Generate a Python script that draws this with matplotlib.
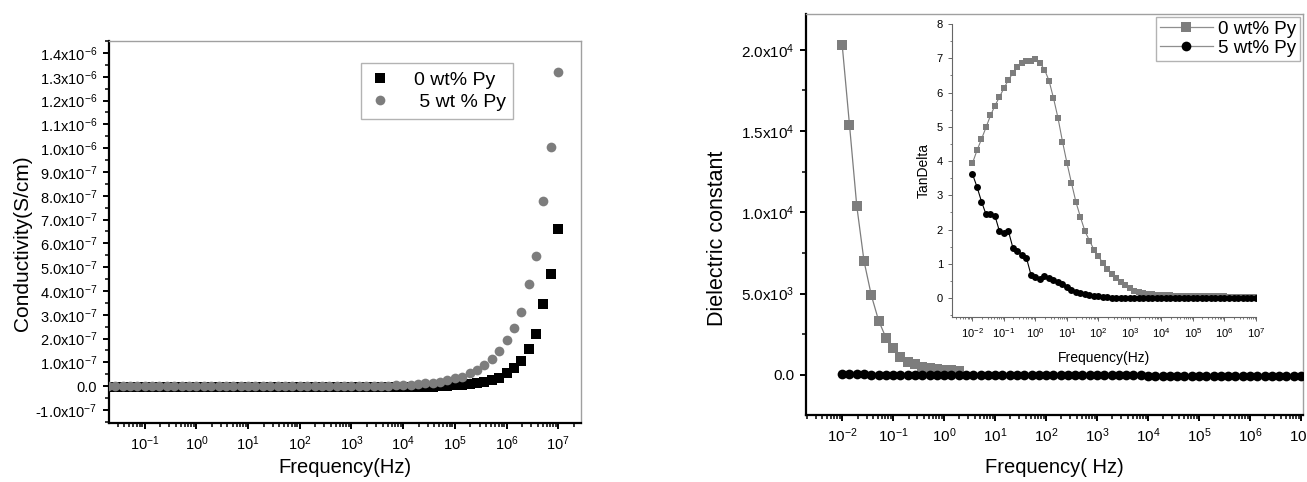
import matplotlib
matplotlib.use("Agg")
import matplotlib.pyplot as plt
from matplotlib.ticker import FixedLocator, FixedFormatter, LogLocator, NullFormatter, MultipleLocator
from matplotlib.lines import Line2D

plt.rcParams['font.family'] = ['Liberation Sans', 'DejaVu Sans']
plt.rcParams['mathtext.fontset'] = 'custom'
plt.rcParams['mathtext.rm'] = 'Liberation Sans'
plt.rcParams['mathtext.it'] = 'Liberation Sans:italic'
plt.rcParams['mathtext.bf'] = 'Liberation Sans:bold'
plt.rcParams['mathtext.default'] = 'regular'

# ---------------- data: left panel (conductivity) ----------------
freq_left = [1.931e-2, 2.683e-2, 3.728e-2, 5.179e-2, 7.197e-2,
             1.000e-1, 1.389e-1, 1.931e-1, 2.683e-1, 3.728e-1, 5.179e-1, 7.197e-1,
             1.000e0, 1.389e0, 1.931e0, 2.683e0, 3.728e0, 5.179e0, 7.197e0,
             1.000e1, 1.389e1, 1.931e1, 2.683e1, 3.728e1, 5.179e1, 7.197e1,
             1.000e2, 1.389e2, 1.931e2, 2.683e2, 3.728e2, 5.179e2, 7.197e2,
             1.000e3, 1.389e3, 1.931e3, 2.683e3, 3.728e3, 5.179e3, 7.197e3,
             1.000e4, 1.389e4, 1.931e4, 2.683e4, 3.728e4, 5.179e4, 7.197e4,
             1.000e5, 1.389e5, 1.931e5, 2.683e5, 3.728e5, 5.179e5, 7.197e5,
             1.000e6, 1.389e6, 1.931e6, 2.683e6, 3.728e6, 5.179e6, 7.197e6,
             1.000e7]
# conductivity in units of 1e-7 S/cm
cond_0wt = [-0.05, -0.05, -0.05, -0.05, -0.05,
            -0.05, -0.05, -0.05, -0.05, -0.05, -0.05, -0.05,
            -0.05, -0.05, -0.05, -0.05, -0.05, -0.05, -0.05,
            -0.05, -0.05, -0.05, -0.05, -0.05, -0.05, -0.05,
            -0.05, -0.05, -0.05, -0.05, -0.05, -0.05, -0.05,
            -0.05, -0.05, -0.05, -0.05, -0.05, -0.05, -0.05,
            -0.05, -0.05, -0.05, -0.05, -0.02, 0.00, 0.01,
            0.03, 0.05, 0.08, 0.12, 0.18, 0.25, 0.36,
            0.53, 0.74, 1.06, 1.58, 2.17, 3.47, 4.69,
            6.62]
cond_5wt = [0.01, 0.01, 0.01, 0.01, 0.01,
            0.01, 0.01, 0.01, 0.01, 0.01, 0.01, 0.01,
            0.01, 0.01, 0.01, 0.01, 0.01, 0.01, 0.01,
            0.01, 0.01, 0.01, 0.01, 0.01, 0.01, 0.01,
            0.01, 0.01, 0.01, 0.01, 0.01, 0.01, 0.01,
            0.01, 0.01, 0.01, 0.01, 0.02, 0.02, 0.03,
            0.04, 0.06, 0.08, 0.11, 0.14, 0.18, 0.25,
            0.32, 0.39, 0.53, 0.67, 0.88, 1.12, 1.47,
            1.93, 2.46, 3.12, 4.27, 5.48, 7.77, 10.06,
            13.2]
cond_scale = 1e-7

left_xticks = [1e-1, 1e0, 1e1, 1e2, 1e3, 1e4, 1e5, 1e6, 1e7]
left_xticklabels = ['10$^{-1}$', '10$^{0}$', '10$^{1}$', '10$^{2}$', '10$^{3}$',
                    '10$^{4}$', '10$^{5}$', '10$^{6}$', '10$^{7}$']
left_yticks = [-1e-7, 0.0, 1e-7, 2e-7, 3e-7, 4e-7, 5e-7, 6e-7, 7e-7, 8e-7, 9e-7,
               1.0e-6, 1.1e-6, 1.2e-6, 1.3e-6, 1.4e-6]
left_yticklabels = ['-1.0x10$^{-7}$', '0.0', '1.0x10$^{-7}$', '2.0x10$^{-7}$', '3.0x10$^{-7}$',
                    '4.0x10$^{-7}$', '5.0x10$^{-7}$', '6.0x10$^{-7}$', '7.0x10$^{-7}$',
                    '8.0x10$^{-7}$', '9.0x10$^{-7}$', '1.0x10$^{-6}$', '1.1x10$^{-6}$',
                    '1.2x10$^{-6}$', '1.3x10$^{-6}$', '1.4x10$^{-6}$']

# ---------------- data: right panel (dielectric constant) ----------------
freq_right = [1.000e-2, 1.389e-2, 1.931e-2, 2.683e-2, 3.728e-2, 5.179e-2, 7.197e-2,
              1.000e-1, 1.389e-1, 1.931e-1, 2.683e-1, 3.728e-1, 5.179e-1, 7.197e-1,
              1.000e0, 1.389e0, 1.931e0, 2.683e0, 3.728e0, 5.179e0, 7.197e0,
              1.000e1, 1.389e1, 1.931e1, 2.683e1, 3.728e1, 5.179e1, 7.197e1,
              1.000e2, 1.389e2, 1.931e2, 2.683e2, 3.728e2, 5.179e2, 7.197e2,
              1.000e3, 1.389e3, 1.931e3, 2.683e3, 3.728e3, 5.179e3, 7.197e3,
              1.000e4, 1.389e4, 1.931e4, 2.683e4, 3.728e4, 5.179e4, 7.197e4,
              1.000e5, 1.389e5, 1.931e5, 2.683e5, 3.728e5, 5.179e5, 7.197e5,
              1.000e6, 1.389e6, 1.931e6, 2.683e6, 3.728e6, 5.179e6, 7.197e6,
              1.000e7]
diel_0wt = [20300, 15400, 10400, 7000, 4900, 3350, 2300,
            1650, 1100, 820, 660, 510, 410, 350,
            310, 290, 270]
diel_5wt = [80, 60, 50, 40, 30, 20, 10,
            0, 0, 0, 0, 0, 0, 0,
            0, 0, 0, 0, 0, 0, 0,
            -20, -20, -20, -20, -20, -20, -20,
            -20, -20, -20, -20, -20, -20, -20,
            -20, -20, -20, -20, -20, -20, -20,
            -50, -50, -50, -50, -50, -50, -50,
            -50, -50, -50, -50, -50, -50, -50,
            -50, -50, -50, -50, -50, -50, -50,
            -50]
right_xticks = [1e-2, 1e-1, 1e0, 1e1, 1e2, 1e3, 1e4, 1e5, 1e6, 1e7]
right_xticklabels = ['10$^{-2}$', '10$^{-1}$', '10$^{0}$', '10$^{1}$', '10$^{2}$',
                     '10$^{3}$', '10$^{4}$', '10$^{5}$', '10$^{6}$', '10$^{7}$']
right_yticks = [0, 5000, 10000, 15000, 20000]
right_yticklabels = ['0.0', '5.0x10$^{3}$', '1.0x10$^{4}$', '1.5x10$^{4}$', '2.0x10$^{4}$']

# ---------------- data: inset (tan delta) ----------------
tan_0wt = [3.94, 4.31, 4.64, 4.98, 5.33, 5.62, 5.87, 6.13, 6.37, 6.57,
           6.74, 6.86, 6.91, 6.93, 6.98, 6.86, 6.67, 6.35, 5.84, 5.26,
           4.57, 3.94, 3.36, 2.80, 2.36, 1.95, 1.68, 1.41, 1.22, 1.02,
           0.85, 0.71, 0.58, 0.47, 0.37, 0.29, 0.22, 0.18, 0.15, 0.13,
           0.11, 0.10, 0.09, 0.08, 0.08, 0.07, 0.07, 0.06, 0.06, 0.06,
           0.05, 0.05, 0.05, 0.05, 0.05, 0.05, 0.05, 0.04, 0.04, 0.04,
           0.04, 0.04, 0.04, 0.04]
tan_5wt = [3.62, 3.25, 2.82, 2.45, 2.45, 2.40, 1.95, 1.90, 1.95, 1.46,
           1.38, 1.27, 1.17, 0.68, 0.62, 0.55, 0.64, 0.60, 0.52, 0.47,
           0.40, 0.33, 0.25, 0.19, 0.15, 0.11, 0.08, 0.07, 0.06, 0.04,
           0.02, 0.01, 0.01, 0.01, 0.01, 0.01, 0.01, 0.01, 0.01, 0.01,
           0.01, 0.01, 0.01, 0.01, 0.01, 0.01, 0.01, 0.01, 0.01, 0.01,
           0.01, 0.01, 0.01, 0.01, 0.01, 0.01, 0.01, 0.01, 0.01, 0.01,
           0.01, 0.01, 0.01, 0.01]
inset_xticks = [1e-2, 1e-1, 1e0, 1e1, 1e2, 1e3, 1e4, 1e5, 1e6, 1e7]
inset_xticklabels = right_xticklabels
inset_yticks = [0, 1, 2, 3, 4, 5, 6, 7, 8]

labels_left = ['0 wt% Py', ' 5 wt % Py']
labels_right = ['0 wt% Py', '5 wt% Py']

GRAY = '#7d7d7d'
LGRAY = '#8f8f8f'
FRAME = '#a0a0a0'

fig = plt.figure(figsize=(13.07, 4.82), dpi=100)

def style_main(ax):
    for s in ['left', 'bottom']:
        ax.spines[s].set_linewidth(1.6)
        ax.spines[s].set_color('black')
    for s in ['top', 'right']:
        ax.spines[s].set_linewidth(1.0)
        ax.spines[s].set_color(FRAME)
    ax.tick_params(which='major', direction='out', length=4.5, width=1.4, top=False, right=False,
                   labelsize=10.5, pad=4)
    ax.tick_params(which='minor', direction='out', length=2.8, width=1.1, top=False, right=False)

# ---- left panel ----
axL = fig.add_axes([109/1307, 1-423/482, (581-109)/1307, (423-41)/482])
cond0 = [v * cond_scale for v in cond_0wt]
cond5 = [v * cond_scale for v in cond_5wt]
axL.plot(freq_left, cond0, 's', color='black', ms=6.5, mec='black', mew=0, label=labels_left[0], zorder=3)
axL.plot(freq_left, cond5, 'o', color=GRAY, ms=7.0, mec=GRAY, mew=0, label=labels_left[1], zorder=4)
axL.set_xscale('log')
axL.set_xlim(10**-1.69, 10**7.44)
axL.set_ylim(-1.55e-7, 1.45e-6)
axL.xaxis.set_major_locator(FixedLocator(left_xticks))
axL.xaxis.set_major_formatter(FixedFormatter(left_xticklabels))
axL.xaxis.set_minor_locator(LogLocator(base=10, subs=[2, 3, 4, 5, 6, 7, 8, 9], numticks=30))
axL.xaxis.set_minor_formatter(NullFormatter())
axL.yaxis.set_major_locator(FixedLocator(left_yticks))
axL.yaxis.set_major_formatter(FixedFormatter(left_yticklabels))
axL.yaxis.set_minor_locator(MultipleLocator(0.5e-7))
style_main(axL)
axL.set_xlabel('Frequency(Hz)', fontsize=14.5)
axL.xaxis.set_label_coords(0.5, -0.092)
axL.set_ylabel('Conductivity(S/cm)', fontsize=15)
axL.yaxis.set_label_coords(-0.163, 0.47)
legL = axL.legend(loc='upper left', bbox_to_anchor=(0.534, 0.942), borderaxespad=0, fontsize=14,
                  frameon=True, fancybox=False, edgecolor=FRAME, handletextpad=1.1, borderpad=0.4,
                  labelspacing=0.25, handlelength=1.2)
legL.get_frame().set_linewidth(1.0)

# ---- right panel ----
axR = fig.add_axes([806/1307, 1-415/482, (1303-806)/1307, (415-14)/482])
axR.plot(freq_right[:len(diel_0wt)], diel_0wt, '-s', color=GRAY, lw=0.9, ms=7.0, mew=0,
         label=labels_right[0], zorder=3)
axR.plot(freq_right, diel_5wt, '-o', color='black', lw=0.9, ms=7.0, mew=0,
         label=labels_right[1], zorder=4)
axR.set_xscale('log')
axR.set_xlim(10**-2.71, 10**7.04)
axR.set_ylim(-2460, 22200)
axR.xaxis.set_major_locator(FixedLocator(right_xticks))
axR.xaxis.set_major_formatter(FixedFormatter(right_xticklabels))
axR.xaxis.set_minor_locator(LogLocator(base=10, subs=[2, 3, 4, 5, 6, 7, 8, 9], numticks=30))
axR.xaxis.set_minor_formatter(NullFormatter())
axR.yaxis.set_major_locator(FixedLocator(right_yticks))
axR.yaxis.set_major_formatter(FixedFormatter(right_yticklabels))
axR.yaxis.set_minor_locator(MultipleLocator(2500))
style_main(axR)
axR.tick_params(which='major', labelsize=11)
axR.set_xlabel('Frequency( Hz)', fontsize=14.5)
axR.xaxis.set_label_coords(0.5, -0.107)
axR.set_ylabel('Dielectric constant', fontsize=15.5)
axR.yaxis.set_label_coords(-0.157, 0.44)

hR = [Line2D([], [], color=LGRAY, lw=0.9, marker='s', ms=6.5, mfc=GRAY, mec=GRAY, mew=0),
      Line2D([], [], color=LGRAY, lw=0.9, marker='o', ms=7.0, mfc='black', mec='black', mew=0)]
legR = axR.legend(hR, labels_right, loc='upper right', bbox_to_anchor=(0.994, 0.993), borderaxespad=0,
                  fontsize=13.5, frameon=True, fancybox=False, edgecolor=FRAME, handletextpad=0.3,
                  borderpad=0.2, labelspacing=0.12, handlelength=2.8)
legR.get_frame().set_linewidth(1.0)

# ---- inset ----
axI = fig.add_axes([952/1307, 1-317/482, (1256-952)/1307, (317-24)/482])
axI.patch.set_alpha(0)
axI.plot(freq_right, tan_0wt, '-s', color=GRAY, lw=0.8, ms=4.3, mew=0, zorder=3)
axI.plot(freq_right, tan_5wt, '-o', color='black', lw=0.8, ms=5.0, mew=0, zorder=4)
axI.set_xscale('log')
axI.set_xlim(10**-2.65, 10**7.0)
axI.set_ylim(-0.55, 8)
for s in ['top', 'right']:
    axI.spines[s].set_visible(False)
for s in ['left', 'bottom']:
    axI.spines[s].set_color('#666666')
    axI.spines[s].set_linewidth(0.8)
axI.xaxis.set_major_locator(FixedLocator(inset_xticks))
axI.xaxis.set_major_formatter(FixedFormatter(inset_xticklabels))
axI.xaxis.set_minor_locator(LogLocator(base=10, subs=[2, 3, 4, 5, 6, 7, 8, 9], numticks=30))
axI.xaxis.set_minor_formatter(NullFormatter())
axI.yaxis.set_major_locator(FixedLocator(inset_yticks))
axI.yaxis.set_minor_locator(MultipleLocator(0.5))
axI.tick_params(which='major', direction='out', length=3, width=0.7, color='#666666', labelsize=8)
axI.tick_params(which='minor', direction='out', length=1.6, width=0.6, color='#666666')
axI.set_xlabel('Frequency(Hz)', fontsize=10, labelpad=8)
axI.set_ylabel('TanDelta', fontsize=10, labelpad=4)

fig.savefig('out.png', dpi=100)
